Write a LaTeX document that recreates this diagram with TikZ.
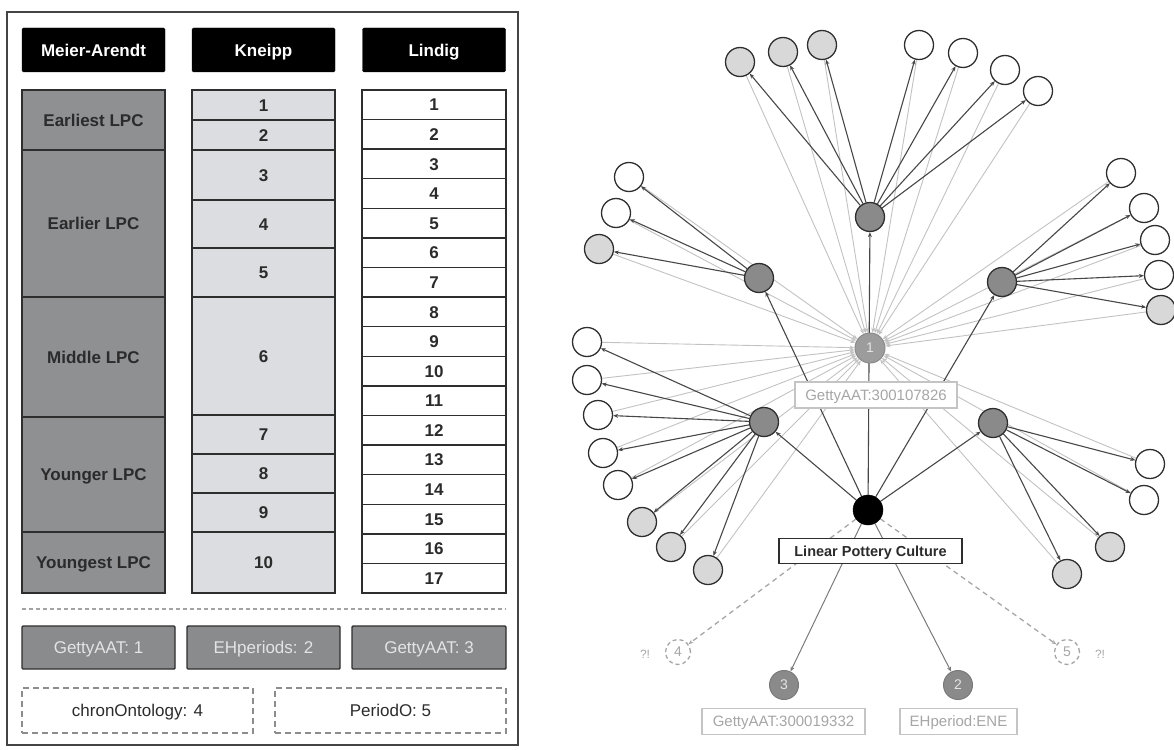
\documentclass[tikz,border=0pt]{standalone}
\usepackage{fontspec}
\setmainfont{Liberation Sans}
\usetikzlibrary{arrows.meta,backgrounds}
\definecolor{mgray}{HTML}{8F9092}
\definecolor{kgray}{HTML}{DCDDE0}
\definecolor{cellline}{HTML}{2E2E2E}
\definecolor{celltext}{HTML}{2B2B2B}
\definecolor{boxgray}{HTML}{8A8B8D}
\definecolor{boxtext}{HTML}{E4E4E4}
\definecolor{dashgray}{HTML}{8C8C8C}
\definecolor{framegray}{HTML}{444444}
\definecolor{lightfill}{HTML}{D8D8D8}
\definecolor{hubfill}{HTML}{8A8A8A}
\definecolor{darkedge}{HTML}{474747}
\definecolor{lightedge}{HTML}{C2C2C2}
\definecolor{midedge}{HTML}{7A7A7A}
\definecolor{labgray}{HTML}{A6A6A6}
\definecolor{labline}{HTML}{C4C4C4}
\begin{document}
\begin{tikzpicture}[x=1pt,y=-1pt,
  every node/.style={inner sep=0pt},
  capsc/.style={text height=12.2pt,text depth=0pt},
  hdr/.style={capsc,fill=black,draw=black,text=white,font=\bfseries\fontsize{17}{20}\selectfont,minimum width=143pt,minimum height=44pt,rounded corners=1.5pt},
  cellbase/.style={capsc,draw=cellline,line width=1.4pt,font=\bfseries\fontsize{17}{20}\selectfont,text=celltext,minimum width=143pt},
  mcell/.style={cellbase,fill=mgray},
  kcell/.style={cellbase,fill=kgray},
  lcell/.style={cellbase,fill=white,minimum width=144pt,minimum height=29.59pt},
  srcbox/.style={capsc,fill=boxgray,draw=cellline,line width=1.4pt,text=boxtext,font=\fontsize{17}{20}\selectfont,minimum height=43pt,rounded corners=1pt},
  candbox/.style={capsc,draw=dashgray,line width=1.3pt,dash pattern=on 6pt off 4pt,text=celltext,font=\fontsize{17}{20}\selectfont,minimum width=231pt,minimum height=45pt},
  sepline/.style={draw=dashgray!80,line width=1.4pt,dash pattern=on 4pt off 3pt},
  gnode/.style={circle,draw=cellline,line width=1.3pt,minimum size=29pt},
  wnode/.style={gnode,fill=white},
  lnode/.style={gnode,fill=lightfill},
  hub/.style={gnode,fill=hubfill},
  rootnode/.style={circle,fill=black,draw=black,minimum size=30pt},
  onenode/.style={circle,fill=hubfill!85!white,draw=hubfill,line width=1pt,minimum size=30pt,text=boxtext,font=\fontsize{14}{16}\selectfont},
  refnode/.style={circle,fill=hubfill,draw=midedge,line width=1pt,minimum size=29pt,text=boxtext,font=\fontsize{14}{16}\selectfont},
  qnode/.style={circle,fill=white,draw=labgray,line width=1.3pt,dash pattern=on 4pt off 3pt,minimum size=25pt,text=labgray,font=\fontsize{14}{16}\selectfont},
  lab/.style={fill=white,draw=labline,line width=1.2pt,text=labgray,font=\fontsize{15}{18}\selectfont,minimum height=26pt,text height=10.8pt,text depth=0pt},
  lpclab/.style={fill=white,draw=cellline,line width=1.2pt,text=celltext,font=\bfseries\fontsize{14.5}{17}\selectfont,minimum height=25pt,minimum width=183pt,text height=10.4pt,text depth=0pt},
  qmark/.style={text=labgray,font=\fontsize{12}{14}\selectfont},
  darr/.style={draw=darkedge,line width=1.1pt,-{Stealth[length=5pt,width=4pt]}},
  larr/.style={draw=lightedge,line width=0.9pt,-{Stealth[length=5pt,width=4pt]}},
  marr/.style={draw=midedge,line width=1pt,-{Stealth[length=5pt,width=4pt]}},
  qarr/.style={draw=labgray,line width=1.3pt,dash pattern=on 5pt off 4pt,-{Stealth[length=5pt,width=4pt]}}
]
\useasboundingbox (0,0) rectangle (1174,749);
% ---------------- left panel ----------------
\draw[framegray,line width=1.6pt] (7,12) rectangle (518,745);
\node[hdr] (hM) at (93.5,50) {Meier-Arendt};
\node[hdr] (hK) at (263.5,50) {Kneipp};
\node[hdr] (hL) at (434,50) {Lindig};
\foreach \t/\b/\l [count=\c] in {90/150/Earliest LPC,150/297/Earlier LPC,297/417/Middle LPC,417/532/Younger LPC,532/593/Youngest LPC}
  {\node[mcell,minimum height={(\b-\t)*1pt}] (M\c) at (93.5,{(\t+\b)/2}) {\l};}
\foreach \t/\b/\l in {90/120/1,120/150/2,150/200/3,200/248/4,248/297/5,297/415/6,415/454/7,454/493/8,493/532/9,532/593/10}
  {\node[kcell,minimum height={(\b-\t)*1pt}] (K\l) at (263.5,{(\t+\b)/2}) {\l};}
\foreach \i in {1,...,17}
  {\node[lcell] (L\i) at (434,{90+29.59*(\i-0.5)}) {\i};}
\coordinate (sepL) at (22,609);
\coordinate (sepR) at (506,609);
\draw[sepline] (sepL) -- (sepR);
\node[srcbox,minimum width=153pt] (s1) at (98.5,647.5) {GettyAAT: 1};
\node[srcbox,minimum width=153pt] (s2) at (263.5,647.5) {EHperiods: 2};
\node[srcbox,minimum width=154pt] (s3) at (429,647.5) {GettyAAT: 3};
\node[candbox] (c4) at (137.5,710.5) {chronOntology: 4};
\node[candbox] (c5) at (390.5,710.5) {PeriodO: 5};
% ---------------- right graph ----------------
\node[rootnode] (R) at (868,510) {};
\node[onenode] (N1) at (870,348) {1};
\node[lab,minimum width=162pt] (N1lab) at (876,395) {GettyAAT:300107826};
\node[lpclab] (Rlab) at (870.5,551) {Linear Pottery Culture};
\node[hub] (T) at (870,217) {};
\node[hub] (LU) at (759,278) {};
\node[hub] (RU) at (1002,282) {};
\node[hub] (LL) at (764,422) {};
\node[hub] (RL) at (993,423) {};
\node[refnode] (N3) at (784,685) {3};
\node[refnode] (N2) at (958,685) {2};
\node[lab,minimum width=163pt] (N3lab) at (783.5,721.5) {GettyAAT:300019332};
\node[lab,minimum width=117pt] (N2lab) at (958.5,721.5) {EHperiod:ENE};
\node[qnode] (N4) at (678,652) {4};
\node[qnode] (N5) at (1067,652) {5};
\node[qmark] (q4) at (645,654) {?!};
\node[qmark] (q5) at (1100,654) {?!};
% children
\foreach \n/\x/\y/\s in {t1/740/62/lnode,t2/783/52/lnode,t3/822/45/lnode,t4/919/45/wnode,t5/963/53/wnode,t6/1005/70/wnode,t7/1038/91/wnode,
  a1/629/177/wnode,a2/616/213/wnode,a3/599/249/lnode,
  b1/1121/173/wnode,b2/1144/208/wnode,b3/1155/240/wnode,b4/1159/275/wnode,b5/1161/310/lnode,
  c1/587/342/wnode,c2/587/380/wnode,c3/598/415/wnode,c4/603/453/wnode,c5/618/485/wnode,c6/642/522/lnode,c7/671/547/lnode,c8/708/570/lnode,
  d1/1150/464/wnode,d2/1144/500/wnode,d3/1110/547/lnode,d4/1067/574/lnode}
  {\node[\s] (\n) at (\x,\y) {};}
\begin{scope}[on background layer]
  \foreach \n in {t1,t2,t3,t4,t5,t6,t7,a1,a2,a3,b1,b2,b3,b4,b5,c1,c2,c3,c4,c5,c6,c7,c8,d1,d2,d3,d4}
    {\draw[larr] (\n) -- (N1);}
  \foreach \n in {t1,t2,t3,t4,t5,t6,t7} {\draw[darr] (T) -- (\n);}
  \foreach \n in {a1,a2,a3} {\draw[darr] (LU) -- (\n);}
  \foreach \n in {b1,b2,b3,b4,b5} {\draw[darr] (RU) -- (\n);}
  \foreach \n in {c1,c2,c3,c4,c5,c6,c7,c8} {\draw[darr] (LL) -- (\n);}
  \foreach \n in {d1,d2,d3,d4} {\draw[darr] (RL) -- (\n);}
  \foreach \n in {T,LU,RU,LL,RL} {\draw[darr] (R) -- (\n);}
  \draw[marr] (R) -- (N3);
  \draw[marr] (R) -- (N2);
  \draw[qarr] (R) -- (N4);
  \draw[qarr] (R) -- (N5);
\end{scope}
\end{tikzpicture}
\end{document}
